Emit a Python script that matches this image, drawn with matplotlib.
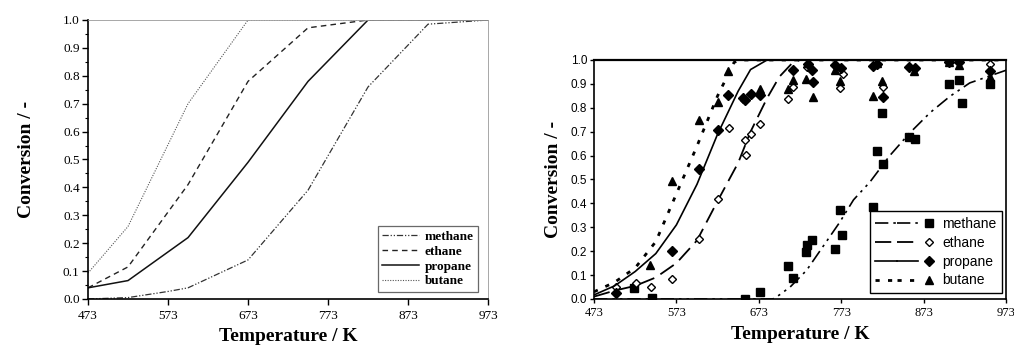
import matplotlib
matplotlib.use("Agg")
import matplotlib.pyplot as plt
from matplotlib.legend_handler import HandlerTuple
from matplotlib.ticker import MultipleLocator

# ---- left panel: model lines ----
left_T = {
    "methane": [473, 523, 573, 598, 673, 748, 823, 898, 973],
    "ethane": [473, 523, 598, 673, 748, 823, 973],
    "propane": [473, 523, 598, 673, 748, 823, 973],
    "butane": [473, 523, 598, 673, 973],
}
left_X = {
    "methane": [0.0, 0.005, 0.027, 0.04, 0.14, 0.39, 0.76, 0.985, 1.0],
    "ethane": [0.04, 0.115, 0.41, 0.78, 0.972, 1.0, 1.0],
    "propane": [0.04, 0.066, 0.22, 0.49, 0.78, 1.0, 1.0],
    "butane": [0.093, 0.26, 0.70, 1.0, 1.0],
}

# ---- right panel: fitted curves ----
fit_T_methane = [473, 690, 698, 711, 731, 751, 771, 788, 808, 832, 856, 881, 905, 929, 973, 985]
fit_X_methane = [0.0, 0.0, 0.017, 0.05, 0.12, 0.22, 0.32, 0.415, 0.49, 0.60, 0.694, 0.78, 0.848, 0.904, 0.957, 0.968]
fit_T_ethane = [473, 498, 523, 548, 573, 598, 623, 648, 663, 683, 698, 713, 723, 973]
fit_X_ethane = [0.01, 0.035, 0.055, 0.09, 0.15, 0.245, 0.41, 0.57, 0.70, 0.84, 0.93, 0.985, 1.0, 1.0]
fit_T_propane = [473, 498, 523, 548, 573, 598, 623, 648, 663, 683, 973]
fit_X_propane = [0.017, 0.055, 0.115, 0.19, 0.31, 0.48, 0.69, 0.87, 0.96, 1.0, 1.0]
fit_T_butane = [473, 498, 523, 548, 573, 598, 623, 643, 650, 973]
fit_X_butane = [0.03, 0.07, 0.13, 0.24, 0.44, 0.64, 0.85, 0.99, 1.0, 1.0]

# ---- right panel: measured points ----
exp_T_methane = [522, 543, 656, 674, 709, 714, 730, 732, 737, 765, 771, 774,
                 811, 816, 822, 824, 855, 862, 904, 916, 920, 953]
exp_X_methane = [0.046, 0.003, 0.0, 0.028, 0.14, 0.087, 0.198, 0.226, 0.247, 0.21, 0.373, 0.268,
                 0.384, 0.62, 0.78, 0.566, 0.677, 0.67, 0.90, 0.918, 0.82, 0.90]
exp_T_ethane = [500, 524, 542, 568, 600, 624, 637, 656, 658, 664, 675,
                709, 714, 732, 772, 775, 824, 954]
exp_X_ethane = [0.049, 0.066, 0.052, 0.084, 0.253, 0.42, 0.715, 0.666, 0.603, 0.69, 0.732,
                0.838, 0.887, 0.97, 0.883, 0.94, 0.887, 0.983]
exp_T_propane = [500, 568, 600, 624, 636, 654, 656, 664, 675, 714, 733, 737, 739,
                 765, 773, 811, 817, 824, 855, 863, 904, 916, 953]
exp_X_propane = [0.024, 0.20, 0.543, 0.708, 0.855, 0.84, 0.834, 0.859, 0.852, 0.957, 0.985, 0.96, 0.906,
                 0.98, 0.966, 0.973, 0.983, 0.844, 0.969, 0.966, 0.99, 0.99, 0.952]
exp_T_butane = [541, 568, 600, 624, 636, 675, 709, 714, 730, 733, 739,
                765, 772, 811, 816, 822, 861, 904, 916, 953]
exp_X_butane = [0.142, 0.494, 0.747, 0.824, 0.952, 0.878, 0.878, 0.917, 0.922, 0.987, 0.844,
                0.96, 0.913, 0.848, 0.987, 0.913, 0.952, 0.99, 0.977, 0.93]

x_ticks = [473, 573, 673, 773, 873, 973]

serif = "Liberation Serif"
sans = "Liberation Sans"

fig = plt.figure(figsize=(10.14, 3.49), dpi=100)

# ================= left panel =================
ax1 = fig.add_axes([0.0868, 0.1433, 0.3945, 0.7994])
left_styles = {
    "methane": dict(ls=(0, (5, 1.5, 1, 1.5, 1, 1.5)), lw=0.9, color="#333333"),
    "ethane": dict(ls=(0, (4, 3)), lw=1.0, color="#222222"),
    "propane": dict(ls="-", lw=1.1, color="#111111"),
    "butane": dict(ls=(0, (1, 1.3)), lw=0.8, color="#555555"),
}
for name in ["methane", "ethane", "propane", "butane"]:
    ax1.plot(left_T[name], left_X[name], label=name, **left_styles[name])

ax1.set_xlim(473, 973)
ax1.set_ylim(0, 1.0)
ax1.set_xticks(x_ticks)
ax1.set_yticks([i / 10 for i in range(11)])
ax1.yaxis.set_minor_locator(MultipleLocator(0.05))
ax1.tick_params(axis="x", pad=4)
ax1.tick_params(direction="out", length=4, width=1, labelsize=9.5)
ax1.tick_params(axis="y", pad=2)
ax1.tick_params(which="minor", direction="out", length=2.5, width=0.8)
ax1.set_yticklabels([f"{i / 10:.1f}" for i in range(11)], fontfamily=serif)
ax1.set_xticklabels([str(t) for t in x_ticks], fontfamily=serif)
for s in ["left", "bottom"]:
    ax1.spines[s].set_linewidth(1.2)
for s in ["top", "right"]:
    ax1.spines[s].set_linewidth(0.6)
    ax1.spines[s].set_color("#999999")
ax1.set_xlabel("Temperature / K", fontfamily=serif, fontweight="bold", fontsize=14, labelpad=4)
ax1.set_ylabel("Conversion / -", fontfamily=serif, fontweight="bold", fontsize=14, labelpad=20)
leg1 = ax1.legend(loc="lower right", bbox_to_anchor=(0.975, 0.025), frameon=True, fancybox=False,
                  prop=dict(family=serif, weight="bold", size=9.5), handlelength=2.8,
                  handletextpad=0.4, labelspacing=0.2, borderpad=0.35, borderaxespad=0)
leg1.get_frame().set_edgecolor("#444444")
leg1.get_frame().set_linewidth(0.9)

# ================= right panel =================
ax2 = fig.add_axes([0.5858, 0.1433, 0.4063, 0.6848])
right_styles = {
    "methane": dict(ls=(0, (8, 3, 1.5, 3, 1.5, 3)), lw=1.2),
    "ethane": dict(ls=(0, (9, 4)), lw=1.3),
    "propane": dict(ls="-", lw=1.2),
    "butane": dict(ls=(0, (1.5, 3)), lw=2.0),
}
fits = {
    "methane": (fit_T_methane, fit_X_methane),
    "ethane": (fit_T_ethane, fit_X_ethane),
    "propane": (fit_T_propane, fit_X_propane),
    "butane": (fit_T_butane, fit_X_butane),
}
exps = {
    "methane": (exp_T_methane, exp_X_methane),
    "ethane": (exp_T_ethane, exp_X_ethane),
    "propane": (exp_T_propane, exp_X_propane),
    "butane": (exp_T_butane, exp_X_butane),
}
markers = {
    "methane": dict(marker="s", ms=5.8, mfc="black", mec="black"),
    "ethane": dict(marker="D", ms=4.2, mfc="white", mec="black", mew=1.0),
    "propane": dict(marker="D", ms=4.6, mfc="black", mec="black"),
    "butane": dict(marker="^", ms=6, mfc="black", mec="black"),
}
handles = []
names = ["methane", "ethane", "propane", "butane"]
for name in names:
    line, = ax2.plot(*fits[name], color="black", **right_styles[name])
    pts, = ax2.plot(*exps[name], ls="none", **markers[name])
    handles.append((line, line, pts))

ax2.set_xlim(473, 973)
ax2.set_ylim(0, 1.0)
ax2.set_xticks(x_ticks)
ax2.set_yticks([i / 10 for i in range(11)])
ax2.tick_params(direction="out", length=3, width=1)
ax2.tick_params(axis="x", pad=3)
ax2.tick_params(axis="y", pad=2)
ax2.set_yticklabels([f"{i / 10:.1f}" for i in range(11)], fontfamily=sans, fontsize=8.5)
ax2.set_xticklabels([str(t) for t in x_ticks], fontfamily=serif, fontsize=9)
for s in ax2.spines.values():
    s.set_linewidth(1.2)
ax2.spines["top"].set_linewidth(1.6)
ax2.set_xlabel("Temperature / K", fontfamily=serif, fontweight="bold", fontsize=14, labelpad=5)
ax2.set_ylabel("Conversion / -", fontfamily=serif, fontweight="bold", fontsize=14, labelpad=6)
leg2 = ax2.legend(handles, names, loc="lower right", bbox_to_anchor=(0.99, 0.025),
                  handler_map={tuple: HandlerTuple(ndivide=None, pad=0)},
                  frameon=True, fancybox=False, prop=dict(family=sans, size=10),
                  handlelength=4.6, handletextpad=0.2, labelspacing=0.35,
                  borderpad=0.4, borderaxespad=0)
leg2.get_frame().set_edgecolor("black")
leg2.get_frame().set_linewidth(1.0)
leg2.get_frame().set_alpha(1)

fig.savefig("out.png", dpi=100)
